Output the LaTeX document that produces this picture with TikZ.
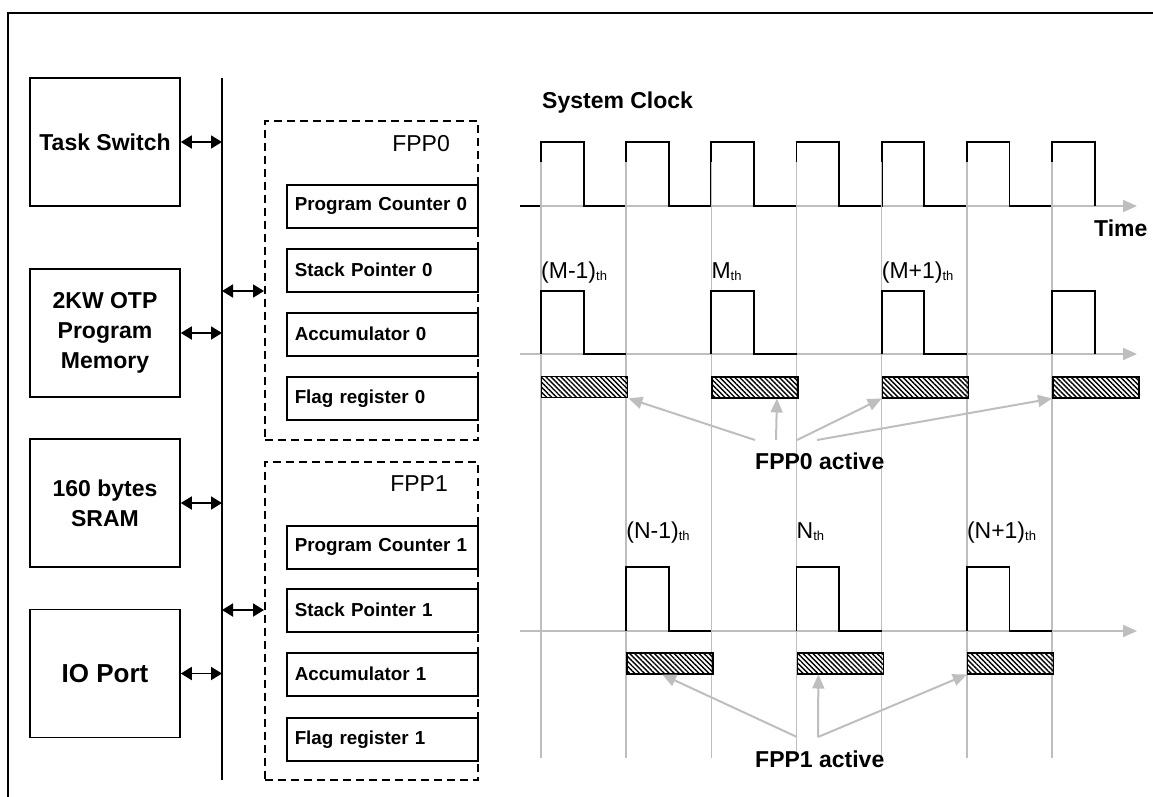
\documentclass[tikz,border=0pt]{standalone}
\usepackage{fontspec}
\setmainfont{Liberation Sans}
\usetikzlibrary{arrows.meta,patterns.meta,calc}
\definecolor{lgray}{RGB}{190,190,190}
\newcommand{\thsub}{\raisebox{-2pt}{\fontsize{13}{13}\selectfont th}}
\begin{document}
\begin{tikzpicture}[x=1pt,y=-1pt]
\tikzset{
 blk/.style={draw, line width=1.6pt, minimum width=150pt, minimum height=128pt, inner sep=0pt, align=center, font=\bfseries\fontsize{23}{30}\selectfont},
 reg/.style={draw, line width=1.5pt, minimum height=43pt, text width=175pt, inner xsep=8pt, inner ysep=0pt, align=left, anchor=north west, font=\bfseries\fontsize{18.8}{22}\selectfont},
 dbox/.style={draw, dash pattern=on 8pt off 5pt, line width=1.6pt, anchor=north west, minimum width=213pt, inner sep=0pt},
 dar/.style={{Triangle[length=11pt,width=13pt]}-{Triangle[length=11pt,width=13pt]}, line width=1.8pt},
 gar/.style={-{Triangle[length=14pt,width=12pt]}, draw=lgray, line width=2pt},
 gline/.style={draw=lgray, line width=1.5pt},
 wave/.style={draw=black, line width=1.8pt},
 hbar/.style={draw, line width=1.5pt, anchor=north west, minimum width=86pt, minimum height=21pt, inner sep=0pt, pattern={Lines[angle=-45,distance=3.5pt,line width=1.4pt]}},
 lbl/.style={inner sep=0pt, anchor=base west, font=\fontsize{23}{28}\selectfont},
 blbl/.style={inner sep=0pt, anchor=base west, font=\bfseries\fontsize{23}{28}\selectfont},
}
\useasboundingbox (0,0) rectangle (1153,796);
% outer frame
\draw[line width=2pt] (8,800) -- (8,13) -- (1160,13);

% left blocks
\node[blk] (ts) at (105,142) {Task Switch};
\node[blk] (mem) at (105,333) {2KW OTP\\Program\\Memory};
\node[blk] (sram) at (105,503) {160 bytes\\SRAM};
\node[blk, font=\bfseries\fontsize{26}{30}\selectfont] (io) at (105,673.5) {IO Port};

% bus
\coordinate (busT) at (222,78);
\coordinate (busB) at (222,780);
\draw[line width=1.6pt] (busT) -- (busB);

\draw[dar] (ts.east) -- (ts.east -| busT);
\draw[dar] (mem.east) -- (mem.east -| busT);
\draw[dar] (sram.east) -- (sram.east -| busT);
\draw[dar] (io.east) -- (io.east -| busT);

% FPP boxes
\node[dbox, minimum height=319pt] (fpp0) at (264,120) {};
\node[dbox, minimum height=318pt] (fpp1) at (264,461) {};
\node[lbl, anchor=base east] (fpp0lbl) at (450,151) {FPP0};
\node[lbl, anchor=base east] (fpp1lbl) at (448,491) {FPP1};

\coordinate (f0in) at (264,291);
\coordinate (f1in) at (264,610);
\draw[dar] (f0in -| busT) -- (f0in);
\draw[dar] (f1in -| busT) -- (f1in);

\node[reg] (pc0) at (286,184) {Program Counter 0};
\node[reg] (sp0) at (286,248) {Stack Pointer 0};
\node[reg] (ac0) at (286,312) {Accumulator 0};
\node[reg] (fl0) at (286,376) {Flag register 0};
\node[reg] (pc1) at (286,525) {Program Counter 1};
\node[reg] (sp1) at (286,588) {Stack Pointer 1};
\node[reg] (ac1) at (286,652) {Accumulator 1};
\node[reg] (fl1) at (286,717) {Flag register 1};

% timing diagram
\node[blbl] (sclk) at (542,108) {System Clock};
\node[blbl] (time) at (1094,236) {Time};

% axes
\coordinate (ax0s) at (520,206); \coordinate (ax0e) at (1137,206);
\coordinate (ax1s) at (520,354); \coordinate (ax1e) at (1137,354);
\coordinate (ax2s) at (520,631); \coordinate (ax2e) at (1137,631);
\draw[gar] (ax0s) -- (ax0e);

% clock
\draw[wave] (520,206)
 \foreach \r in {541,626.2,711.3,796.5,881.7,966.8,1052} { -- (\r,206) -- (\r,142) -- (\r+42.6,142) -- (\r+42.6,206) };

% grey verticals
\foreach \r/\n in {541/v1,626.2/v2,711.3/v3,796.5/v4,881.7/v5,966.8/v6,1052/v7} {
  \coordinate (\n t) at (\r,162);
  \coordinate (\n b) at (\r,758);
  \draw[gline] (\n t) -- (\n b);
}

\draw[gar] (ax1s) -- (ax1e);
\draw[gar] (ax2s) -- (ax2e);

% FPP0 pulses
\foreach \r in {541,711.3,881.7} {
  \draw[wave] (\r,354) -- (\r,291) -- (\r+42.6,291) -- (\r+42.6,354) -- (\r+85.2,354);
}
\draw[wave] (1052,354) -- (1052,291) -- (1094.6,291) -- (1094.6,354);

% FPP1 pulses
\foreach \r in {626.2,796.5,966.8} {
  \draw[wave] (\r,631) -- (\r,567) -- (\r+42.6,567) -- (\r+42.6,631) -- (\r+85.2,631);
}

% labels
\node[lbl] (lm1) at (541,278) {(M-1)\thsub};
\node[lbl] (lm2) at (711.3,278) {M\thsub};
\node[lbl] (lm3) at (881.7,278) {(M+1)\thsub};
\node[lbl] (ln1) at (626.2,538) {(N-1)\thsub};
\node[lbl] (ln2) at (796.5,538) {N\thsub};
\node[lbl] (ln3) at (966.8,538) {(N+1)\thsub};

% hatched bars
\node[hbar] (b0a) at (541,376) {};
\node[hbar] (b0b) at (711.3,376) {};
\node[hbar] (b0c) at (881.7,376) {};
\node[hbar] (b0d) at (1052,376) {};
\node[hbar] (b1a) at (626.2,652) {};
\node[hbar] (b1b) at (796.5,652) {};
\node[hbar] (b1c) at (966.8,652) {};

% active labels and arrows
\node[blbl] (act0) at (755,469) {FPP0 active};
\node[blbl] (act1) at (755,767) {FPP1 active};

\coordinate (s01) at (755,440);
\coordinate (s02) at (776,440);
\coordinate (s03) at (797,440);
\coordinate (s04) at (817,440);
\draw[gar] (s01) -- (b0a.south east);
\draw[gar] (s02) -- ($(b0b.south west)!0.75!(b0b.south east)$);
\draw[gar] (s03) -- (b0c.south west);
\draw[gar] (s04) -- (b0d.south west);

\coordinate (s11) at (797,737);
\coordinate (s12) at (818,737);
\draw[gar] (s11) -- ($(b1a.south west)!0.41!(b1a.south east)$);
\draw[gar] (s12) -- ($(b1b.south west)!0.25!(b1b.south east)$);
\draw[gar] (s12) -- (b1c.south west);
\end{tikzpicture}
\end{document}
